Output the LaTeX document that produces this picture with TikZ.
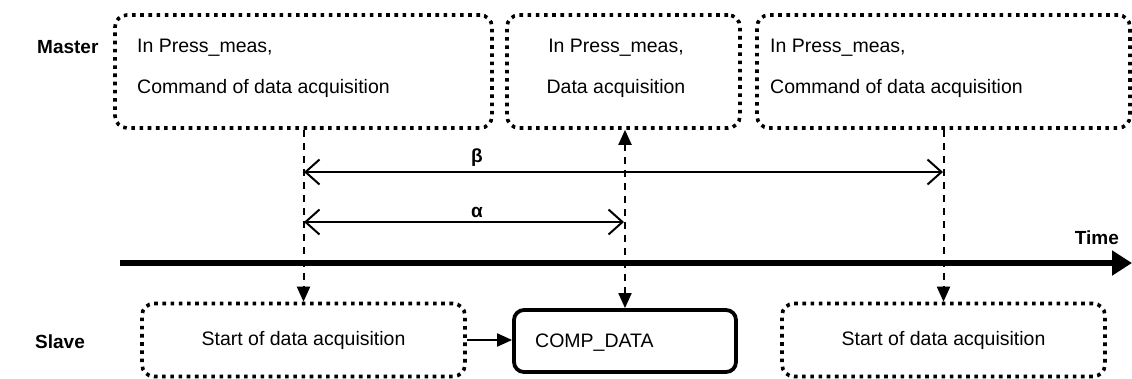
\documentclass[tikz,border=0pt]{standalone}
\usepackage{fontspec}
\setmainfont{Liberation Sans}
\usetikzlibrary{arrows.meta}
\begin{document}
\begin{tikzpicture}[x=1pt,y=-1pt,
  every node/.style={font=\fontsize{19.5}{41}\selectfont},
  dotbox/.style={draw, line width=3.6pt, dash pattern=on 3.6pt off 4.6pt, rounded corners=12pt, inner sep=0pt},
  solidbox/.style={draw, line width=3.8pt, rounded corners=10pt, inner sep=0pt},
  lbl/.style={font=\fontsize{19}{22}\selectfont\bfseries},
  dline/.style={line width=2pt, dash pattern=on 7pt off 6pt},
  tri/.style={-{Triangle[length=15pt,width=13pt]}},
  barb/.style={line width=2pt, {Straight Barb[length=14pt,width=25pt,line width=2pt]}-{Straight Barb[length=14pt,width=25pt,line width=2pt]}}
]
\useasboundingbox (0,0) rectangle (1132,378);
% master boxes
\node[dotbox, minimum width=377pt, minimum height=113pt] (m1) at (303.5,71.5) {};
\node[anchor=north west, align=left, inner sep=0pt] (t1) at (137,39) {In Press\_meas,\\Command of data acquisition};
\node[dotbox, minimum width=233pt, minimum height=113pt] (m2) at (623.5,71.5) {};
\node[anchor=north, align=center, inner sep=0pt] (t2) at (616,39) {In Press\_meas,\\Data acquisition};
\node[dotbox, minimum width=373pt, minimum height=113pt] (m3) at (943.5,71.5) {};
\node[anchor=north west, align=left, inner sep=0pt] (t3) at (770,39) {In Press\_meas,\\Command of data acquisition};
% slave boxes
\node[dotbox, minimum width=323pt, minimum height=73pt] (s1) at (303.5,340) {Start of data acquisition};
\node[solidbox, minimum width=222pt, minimum height=62pt] (s2) at (625,341) {};
\node[anchor=west, inner sep=0pt] (t4) at (535,343) {COMP\_DATA};
\node[dotbox, minimum width=323pt, minimum height=73pt] (s3) at (943.5,340) {Start of data acquisition};
% labels
\node[lbl, anchor=west, inner sep=0pt] (master) at (37,47) {Master};
\node[lbl, anchor=west, inner sep=0pt] (slave) at (35,342) {Slave};
\node[lbl, anchor=east, inner sep=0pt] (time) at (1119,238) {Time};
\node[lbl, anchor=base, inner sep=0pt] (beta) at (477,162) {β};
\node[lbl, anchor=base, inner sep=0pt] (alpha) at (477,217) {α};
% time axis
\coordinate (ta) at (120,263);
\coordinate (tb) at (1132,263);
\draw[line width=6.5pt, -{Triangle[length=20pt,width=24pt]}] (ta) -- (tb);
% dashed connectors
\draw[dline, tri] (m1.south) -- (s1.north);
\draw[dline, tri] (m3.south) -- (s3.north);
\draw[dline, {Triangle[length=15pt,width=13pt]}-{Triangle[length=15pt,width=13pt]}] (s2.north) -- (s2.north |- m2.south);
\draw[line width=2pt, tri] (s1.east) -- (s1.east -| s2.west);
% alpha beta spans
\coordinate (b1) at (304,172);
\coordinate (b2) at (943,172);
\coordinate (a1) at (304,222);
\coordinate (a2) at (624,222);
\draw[barb] (b1) -- (b2);
\draw[barb] (a1) -- (a2);
\end{tikzpicture}
\end{document}
